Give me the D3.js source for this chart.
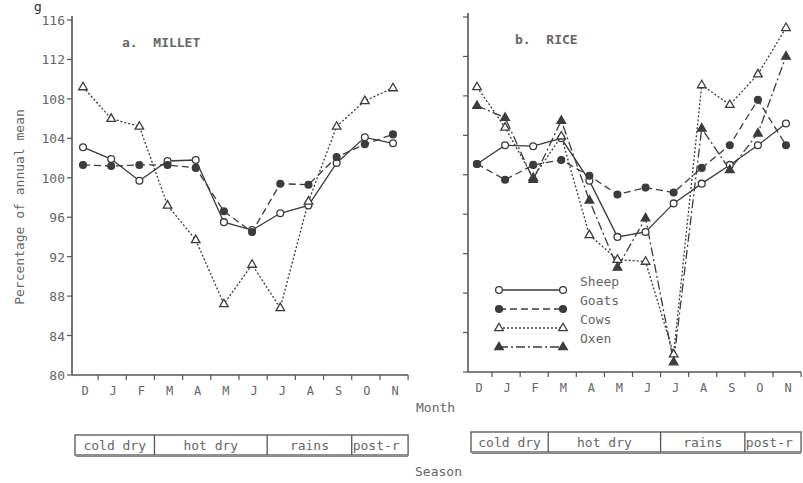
<!DOCTYPE html>
<html>
<head>
<meta charset="utf-8">
<script src="https://cdn.jsdelivr.net/npm/d3@7"></script>
<style>
	body { margin: 0; background: #fff; }
	svg { display: block; }
	text { font-family: 'DejaVu Sans Mono', 'Liberation Mono', monospace; fill: #666; }
</style>
</head>
<body>
<svg id="chart" width="803" height="483"></svg>
<script>

var months = ['D', 'J', 'F', 'M', 'A', 'M', 'J', 'J', 'A', 'S', 'O', 'N'];
var yTicks = [80, 84, 88, 92, 96, 100, 104, 108, 112, 116];
var seasons = ['cold dry', 'hot dry', 'rains', 'post-r'];
var seasonMonths = [3, 4, 3, 2];
var species = ['Sheep', 'Goats', 'Cows', 'Oxen'];

// millet
var milletSheep = [103.1, 101.9, 99.7, 101.7, 101.8, 95.5, 94.7, 96.4, 97.2, 101.5, 104.1, 103.5];
var milletGoats = [101.3, 101.2, 101.3, 101.3, 101.0, 96.6, 94.5, 99.4, 99.3, 102.1, 103.4, 104.4];
var milletCows = [109.2, 106.0, 105.2, 97.2, 93.7, 87.2, 91.2, 86.8, 97.6, 105.2, 107.8, 109.1];

// rice
var riceSheep = [101.1, 103.0, 102.9, 103.7, 99.4, 93.7, 94.2, 97.1, 99.1, 101.0, 103.0, 105.2];
var riceGoats = [101.1, 99.5, 101.0, 101.5, 99.9, 98.0, 98.7, 98.2, 100.7, 103.0, 107.6, 103.0];
var riceCows = [108.9, 104.8, 99.7, 103.9, 93.9, 91.4, 91.2, 81.8, 109.1, 107.1, 110.2, 114.9];
var riceOxen = [107.0, 105.8, 99.5, 105.5, 97.4, 90.6, 95.6, 81.0, 104.7, 100.5, 104.2, 112.0];

var svg = d3.select('#chart');
var ink = '#3c3c3c';

var styles = {
	Sheep: { dash: null, shape: 'circle', fill: '#fff' },
	Goats: { dash: '7,4', shape: 'circle', fill: ink },
	Cows: { dash: '2,2', shape: 'triangle', fill: '#fff' },
	Oxen: { dash: '9,3,2,3', shape: 'triangle', fill: ink }
};

function marker(g, name, x, y) {
	var s = styles[name];
	if (s.shape === 'circle')
		g.append('circle').attr('cx', x).attr('cy', y).attr('r', 3.4)
			.style('fill', s.fill).style('stroke', ink).style('stroke-width', 1.3);
	else
		g.append('path').attr('d', 'M{0},{1}l4.3,7.5h-8.6z'.replace('{0}', x).replace('{1}', y - 4.8))
			.style('fill', s.fill).style('stroke', ink).style('stroke-width', 1.3);
}

function panel(o) {
	var g = svg.append('g');

	var x = d3.scalePoint().domain(d3.range(months.length)).range([o.x0, o.x1]);
	var y = d3.scaleLinear().domain([80, 116]).range([o.yb, o.yt]);
	var step = x.step();
	var left = o.axisX, right = x(11) + step / 2 + 1;

	// y axis
	g.append('line').attr('x1', left).attr('x2', left).attr('y1', o.yt - 4).attr('y2', o.yb)
		.style('stroke', '#555').style('stroke-width', 1.6);
	yTicks.forEach(function(t) {
		g.append('line').attr('x1', left - 5).attr('x2', left).attr('y1', y(t)).attr('y2', y(t))
			.style('stroke', '#555').style('stroke-width', 1.2);
		if (o.labels)
			g.append('text').attr('x', left - 7).attr('y', y(t) + 5).attr('text-anchor', 'end')
				.style('font-size', '13px').text(t);
	});

	// x axis
	g.append('line').attr('x1', left).attr('x2', right).attr('y1', o.yb).attr('y2', o.yb)
		.style('stroke', '#555').style('stroke-width', 1.6);
	d3.range(months.length).forEach(function(i) {
		var tx = x(i) + step / 2 + 1;
		g.append('line').attr('x1', tx).attr('x2', tx).attr('y1', o.yb).attr('y2', o.yb + 5)
			.style('stroke', '#555').style('stroke-width', 1.2);
		g.append('text').attr('x', x(i) + 2).attr('y', o.yb + 20).attr('text-anchor', 'middle')
			.style('font-size', '12px').text(months[i]);
	});

	g.append('text').attr('x', o.titleX).attr('y', o.yt + 27).style('font-size', '13px')
		.style('font-weight', 'bold').attr('xml:space', 'preserve').text(o.title);

	// series
	var line = d3.line().x(function(d, i) { return x(i); }).y(function(d) { return y(d); });
	o.series.forEach(function(s) {
		g.append('path').datum(s.values).attr('d', line)
			.style('fill', 'none').style('stroke', ink).style('stroke-width', 1.3)
			.style('stroke-dasharray', styles[s.name].dash);
	});
	o.series.forEach(function(s) {
		s.values.forEach(function(v, i) { marker(g, s.name, x(i), y(v)); });
	});

	// season box
	var bx = left + 3, by = o.boxY, bh = 20;
	var clip = 'clip' + o.x0;
	svg.append('clipPath').attr('id', clip).append('rect')
		.attr('x', bx).attr('y', by).attr('width', right - bx).attr('height', bh);
	g.append('rect').attr('x', bx).attr('y', by).attr('width', right - bx).attr('height', bh)
		.style('fill', 'none').style('stroke', '#555').style('stroke-width', 1.3);
	g.append('line').attr('x1', bx + 1).attr('x2', right).attr('y1', by + bh + 1.5).attr('y2', by + bh + 1.5)
		.style('stroke', '#888').style('stroke-width', 1);
	var start = 0;
	seasons.forEach(function(name, k) {
		var a = start === 0 ? bx : x(start) - step / 2 + 1;
		var end = start + seasonMonths[k];
		var b = end === months.length ? right : x(end) - step / 2 + 1;
		if (k > 0)
			g.append('line').attr('x1', a).attr('x2', a).attr('y1', by).attr('y2', by + bh)
				.style('stroke', '#555').style('stroke-width', 1.3);
		var t = g.append('text').attr('y', by + 15).style('font-size', '13px')
			.attr('clip-path', 'url(#' + clip + ')').text(name);
		if (end === months.length)
			t.attr('x', a + 1);
		else
			t.attr('x', (a + b) / 2).attr('text-anchor', 'middle');
		start = end;
	});

	return { x: x, y: y };
}

panel({
	x0: 83, x1: 393, axisX: 72, yt: 20, yb: 375, labels: true, boxY: 435,
	title: 'a.  MILLET', titleX: 122,
	series: [
		{ name: 'Sheep', values: milletSheep },
		{ name: 'Goats', values: milletGoats },
		{ name: 'Cows', values: milletCows }
	]
});

panel({
	x0: 477, x1: 786, axisX: 468, yt: 17, yb: 372, labels: false, boxY: 432,
	title: 'b.  RICE', titleX: 515,
	series: [
		{ name: 'Sheep', values: riceSheep },
		{ name: 'Goats', values: riceGoats },
		{ name: 'Cows', values: riceCows },
		{ name: 'Oxen', values: riceOxen }
	]
});

// legend
var lg = svg.append('g');
species.forEach(function(name, i) {
	var ly = 290 + i * 19;
	lg.append('line').attr('x1', 499).attr('x2', 563).attr('y1', ly).attr('y2', ly)
		.style('stroke', ink).style('stroke-width', 1.3).style('stroke-dasharray', styles[name].dash);
	marker(lg, name, 499, ly);
	marker(lg, name, 563, ly);
	lg.append('text').attr('x', 580).attr('y', ly - 4).style('font-size', '13px').text(name);
});

// axis titles
svg.append('text').attr('transform', 'translate(24,207) rotate(-90)').attr('text-anchor', 'middle')
	.style('font-size', '13px').text('Percentage of annual mean');
svg.append('text').attr('x', 416).attr('y', 412).style('font-size', '13px').text('Month');
svg.append('text').attr('x', 415).attr('y', 476).style('font-size', '13px').text('Season');

// caption fragment at the top edge
svg.append('text').attr('x', 34).attr('y', 11)
	.style('font-family', 'DejaVu Sans').style('font-size', '12px').style('fill', '#222').text('g');

</script>
</body>
</html>
